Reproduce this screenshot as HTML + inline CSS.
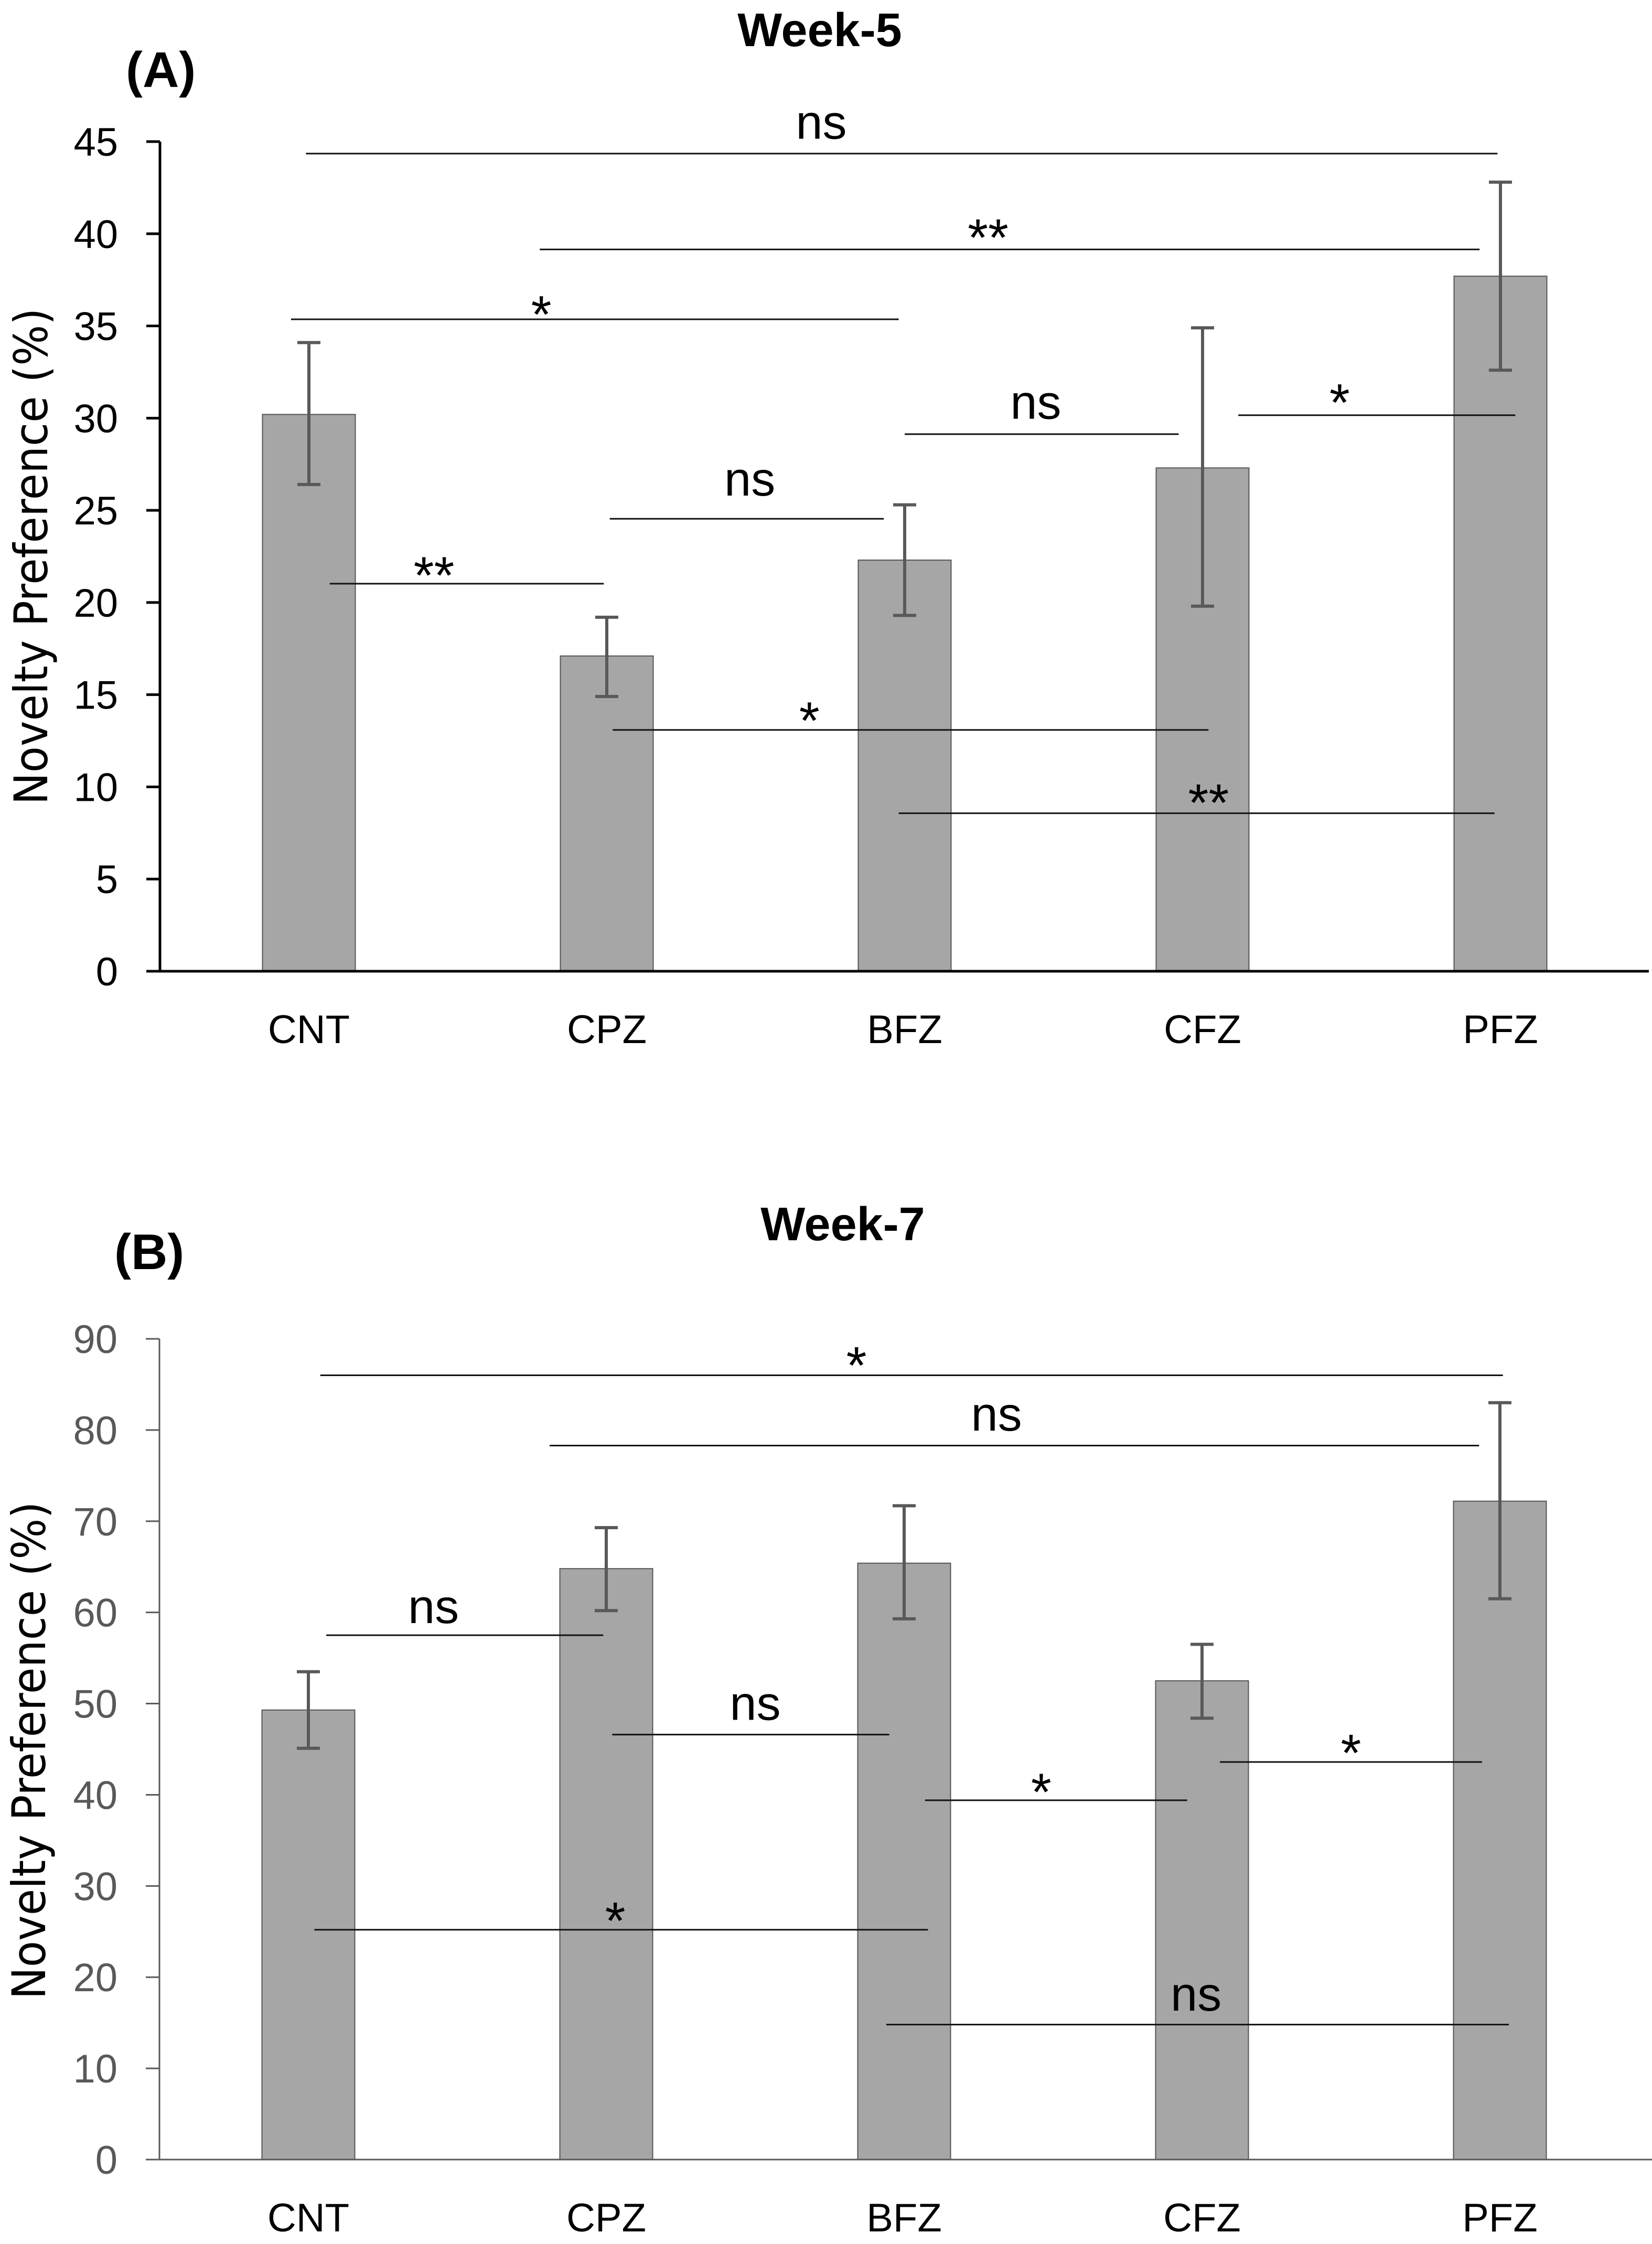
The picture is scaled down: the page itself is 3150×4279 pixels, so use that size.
<!DOCTYPE html>
<html><head><meta charset="utf-8"><style>
html,body{margin:0;padding:0;background:#fff;}
svg{display:block;}
</style></head><body>
<svg id="fig" width="3150" height="4279" viewBox="0 0 3150 4279" xmlns="http://www.w3.org/2000/svg" font-family="Liberation Sans, sans-serif">
<rect width="3150" height="4279" fill="#fff"/>
<text x="240" y="166" font-size="96" font-weight="bold">(A)</text>
<text x="1563" y="88" font-size="90" font-weight="bold" text-anchor="middle">Week-5</text>
<text x="218" y="2420" font-size="96" font-weight="bold">(B)</text>
<text x="1607" y="2365" font-size="90" font-weight="bold" text-anchor="middle">Week-7</text>
<text transform="translate(90,1061) rotate(-90)" font-family="DejaVu Sans, sans-serif" font-size="88" text-anchor="middle" textLength="947" lengthAdjust="spacingAndGlyphs">Novelty Preference (%)</text>
<text transform="translate(86,3338) rotate(-90)" font-family="DejaVu Sans, sans-serif" font-size="88" text-anchor="middle" textLength="949" lengthAdjust="spacingAndGlyphs">Novelty Preference (%)</text>
<g id="chartA"></g>
<g id="chartB"></g>
</svg>
<script>
const categories = ["CNT","CPZ","BFZ","CFZ","PFZ"];
// Week-5
const valuesA = [30.2, 17.1, 22.3, 27.3, 37.7];
const errHiA = [34.1, 19.2, 25.3, 34.9, 42.8];
const errLoA = [26.4, 14.9, 19.3, 19.8, 32.6];
const ticksA = [0,5,10,15,20,25,30,35,40,45];
// significance brackets (category-index units)
const sigFromA = [-0.01, 0.775, -0.06, 2.0, 3.12, 1.01, 0.07, 1.02, 1.98];
const sigToA = [3.99, 3.93, 1.98, 2.92, 4.05, 1.93, 0.99, 3.02, 3.98];
const sigYA = [44.35, 39.15, 35.36, 29.13, 30.16, 24.54, 21.02, 13.09, 8.57];
const sigLabelA = ["ns","**","*","ns","*","ns","**","*","**"];
const sigLabelYA = [45.83, 40.44, 36.27, 30.65, 31.49, 26.48, 22.12, 14.23, 9.79];
const sigLabelXA = [1.72, 2.28, 0.78, 2.44, 3.46, 1.48, 0.42, 1.68, 3.02];
// Week-7
const valuesB = [49.3, 64.8, 65.4, 52.5, 72.2];
const errHiB = [53.5, 69.3, 71.7, 56.5, 83.0];
const errLoB = [45.1, 60.2, 59.3, 48.4, 61.5];
const ticksB = [0,10,20,30,40,50,60,70,80,90];
const sigFromB = [0.04, 0.81, 0.06, 1.02, 2.07, 3.06, 0.02, 1.94];
const sigToB = [4.01, 3.93, 0.99, 1.95, 2.95, 3.94, 2.08, 4.03];
const sigYB = [86.0, 78.3, 57.5, 46.6, 39.4, 43.6, 25.2, 14.8];
const sigLabelB = ["*","ns","ns","ns","*","*","*","ns"];
const sigLabelYB = [88.4, 81.3, 60.2, 49.6, 41.6, 45.9, 27.5, 17.7];
const sigLabelXB = [1.84, 2.31, 0.42, 1.50, 2.46, 3.50, 1.03, 2.98];

const NS = "http://www.w3.org/2000/svg";
function mk(parent, tag, attrs){
  const e = document.createElementNS(NS, tag);
  for (const k in attrs) e.setAttribute(k, attrs[k]);
  parent.appendChild(e);
  return e;
}
function draw(g, cfg){
  const {x0, xEnd, y0, unit, vals, hi, lo, ticks, sf, st, sy, sl, sly, slx, axisColor, axisW, tickColor, key} = cfg;
  const step = 568;
  const xs = i => x0 + step*(i+0.5);
  const ys = v => y0 - v*unit;
  vals.forEach((v,i)=>{
    const r = mk(g,'rect',{x:xs(i)-88.5, y:ys(v), width:177, height:y0-ys(v), fill:'#a6a6a6', stroke:'#555', 'stroke-width':2});
    
    
  });
  vals.forEach((v,i)=>{
    const eg = mk(g,'g',{stroke:'#595959','stroke-width':6});
    
    
    mk(eg,'line',{x1:xs(i),x2:xs(i),y1:ys(hi[i]),y2:ys(lo[i])});
    mk(eg,'line',{x1:xs(i)-22,x2:xs(i)+22,y1:ys(hi[i]),y2:ys(hi[i])});
    mk(eg,'line',{x1:xs(i)-22,x2:xs(i)+22,y1:ys(lo[i]),y2:ys(lo[i])});
  });
  const ya = mk(g,'line',{x1:x0,x2:x0,y1:ys(ticks[ticks.length-1]),y2:y0,stroke:axisColor,'stroke-width':axisW});
  
  
  const xa = mk(g,'line',{x1:x0-26,x2:xEnd,y1:y0,y2:y0,stroke:axisColor,'stroke-width':axisW});
  
  
  ticks.forEach(t=>{
    mk(g,'line',{x1:x0-26,x2:x0,y1:ys(t),y2:ys(t),stroke:axisColor,'stroke-width':axisW});
    const tx = mk(g,'text',{x:x0-80,y:ys(t)+27,'font-size':76,'text-anchor':'end',fill:tickColor});
    tx.textContent = t;
    
    
  });
  categories.forEach((c,i)=>{
    const tx = mk(g,'text',{x:xs(i),y:y0+137,'font-size':76,'text-anchor':'middle',fill:'#000'});
    tx.textContent = c;
    
    
  });
  sy.forEach((v,i)=>{
    const ln = mk(g,'line',{x1:xs(sf[i]),x2:xs(st[i]),y1:ys(v),y2:ys(v),stroke:'#111','stroke-width':3});
    
    
    const isNs = sl[i]==='ns';
    const fs = isNs ? 92 : 100;
    const base = ys(sly[i]) + (isNs ? 0.26*fs : 0.57*fs);
    const tx = mk(g,'text',{x:xs(slx[i]),y:base,'font-size':fs,'text-anchor':'middle',fill:'#000'});
    tx.textContent = sl[i];
    
    
  });
}
draw(document.getElementById('chartA'), {x0:305, xEnd:3144, y0:1852, unit:(1852-270)/45, vals:valuesA, hi:errHiA, lo:errLoA, ticks:ticksA, sf:sigFromA, st:sigToA, sy:sigYA, sl:sigLabelA, sly:sigLabelYA, slx:sigLabelXA, axisColor:'#000', axisW:5, tickColor:'#000', key:'a'});
draw(document.getElementById('chartB'), {x0:304, xEnd:3150, y0:4118, unit:(4118-2553)/90, vals:valuesB, hi:errHiB, lo:errLoB, ticks:ticksB, sf:sigFromB, st:sigToB, sy:sigYB, sl:sigLabelB, sly:sigLabelYB, slx:sigLabelXB, axisColor:'#595959', axisW:3, tickColor:'#595959', key:'b'});
</script>
</body></html>
